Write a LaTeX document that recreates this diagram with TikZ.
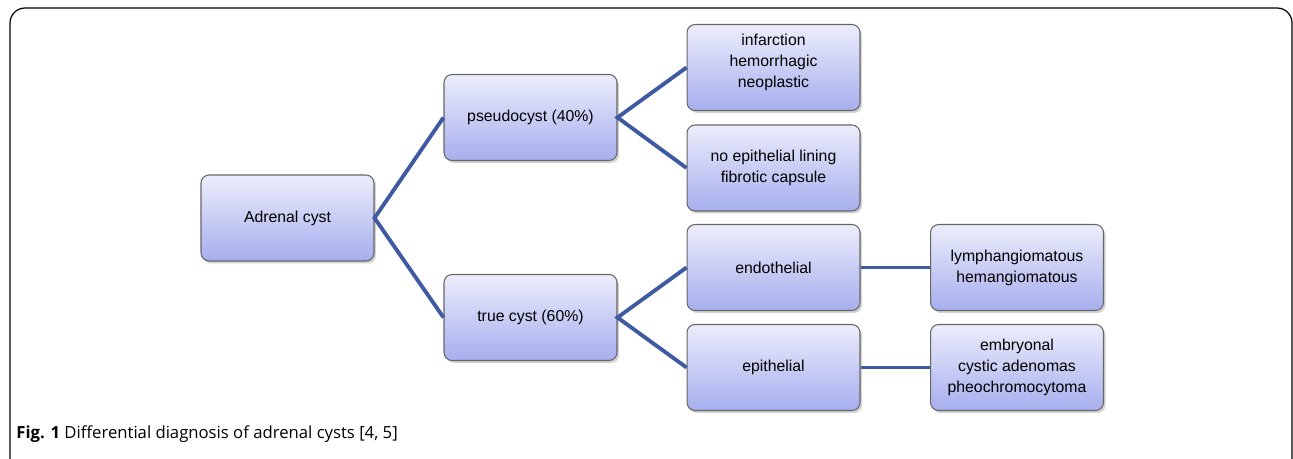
\documentclass[tikz,border=0pt]{standalone}
\usepackage{fontspec}
\setmainfont{Liberation Sans}
\newfontfamily\capfont{Open Sans}
\usetikzlibrary{shadows}
\definecolor{linkblue}{HTML}{3F5AA2}
\definecolor{boxtop}{HTML}{ECEDFB}
\definecolor{boxbot}{HTML}{A6AEEE}

\begin{document}
\begin{tikzpicture}[x=0.02cm,y=-0.02cm,
  cystbox/.style={draw=gray!80!black,line width=0.6pt,rounded corners=0.16cm,
    minimum width=3.46cm,minimum height=1.72cm,top color=boxtop,bottom color=boxbot,
    drop shadow={shadow xshift=0.04cm,shadow yshift=-0.05cm,opacity=0.35},
    align=center,font=\fontsize{9}{12}\selectfont},
  link/.style={linkblue,line width=2.2pt}]
  \useasboundingbox (0,0) rectangle (1293,459);
  \begin{scope}
    \clip (0,0) rectangle (1293,459);
    \draw[line width=0.7pt,rounded corners=0.3cm] (10,8) rectangle (1292,480);
  \end{scope}

  % boxes
  \node[cystbox] (adrenal) at (287.5,218) {Adrenal cyst};
  \node[cystbox] (pseudo) at (530.5,117.5) {pseudocyst (40\%)};
  \node[cystbox] (truecyst) at (530.5,317.5) {true cyst (60\%)};
  \node[cystbox] (infarct) at (773.5,67.5) {infarction\\hemorrhagic\\neoplastic\\[-4pt]};
  \node[cystbox] (noepi) at (773.5,168) {no epithelial lining\\fibrotic capsule};
  \node[cystbox] (endo) at (773.5,267.5) {endothelial};
  \node[cystbox] (epi) at (773.5,367.5) {epithelial};
  \node[cystbox] (lymph) at (1017,267.5) {lymphangiomatous\\hemangiomatous};
  \node[cystbox] (embryo) at (1017,367.5) {embryonal\\cystic adenomas\\pheochromocytoma};

  % links
  \draw[link] (pseudo.west) -- (adrenal.east) -- (truecyst.west);
  \draw[link] (infarct.west) -- (pseudo.east) -- (noepi.west);
  \draw[link] (endo.west) -- (truecyst.east) -- (epi.west);
  \draw[link] (endo.east) -- (lymph.west);
  \draw[link] (epi.east) -- (embryo.west);

  % caption
  \node[anchor=base west,inner sep=0pt,font=\capfont\fontsize{9.5}{11}\selectfont] (caption) at (16,438)
    {\textbf{Fig. 1} Differential diagnosis of adrenal cysts [4, 5]};
\end{tikzpicture}
\end{document}
